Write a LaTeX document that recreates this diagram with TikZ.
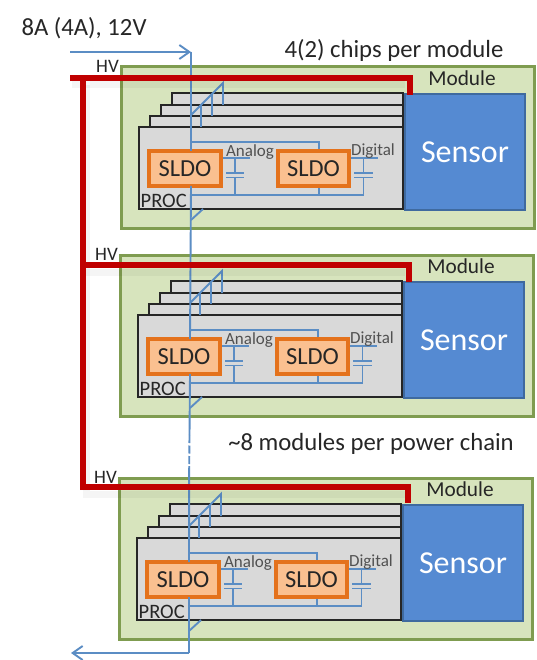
\documentclass[tikz,border=0pt]{standalone}
\usepackage{fontspec}
\setmainfont{Carlito}
\usetikzlibrary{arrows.meta}
\definecolor{gfill}{HTML}{D7E4BD}
\definecolor{gline}{HTML}{7F9C50}
\definecolor{chipfill}{HTML}{D9D9D9}
\definecolor{sfill}{HTML}{558AD2}
\definecolor{sline}{HTML}{3F6A9F}
\definecolor{ofill}{HTML}{FAC090}
\definecolor{oline}{HTML}{E4721C}
\definecolor{wirec}{HTML}{5B8DC4}
\definecolor{redc}{HTML}{C00000}
\definecolor{txt}{HTML}{262626}
\tikzset{
  rectbase/.style={rectangle,inner sep=0pt,outer sep=0pt},
  greenbox/.style={rectbase,draw=gline,fill=gfill,line width=3pt,minimum width=413pt,minimum height=161pt},
  chipbox/.style={rectbase,draw=black!85,fill=chipfill,line width=1.3pt},
  sensorbox/.style={rectbase,draw=sline,fill=sfill,line width=2.4pt,minimum width=120pt,minimum height=116pt,text=white,font=\fontsize{32}{34}\selectfont},
  sldobox/.style={rectbase,draw=oline,fill=ofill,line width=3.2pt,minimum width=71pt,minimum height=35pt,text=txt,font=\fontsize{24.5}{26}\selectfont},
  wire/.style={draw=wirec,line width=1.9pt},
  capplate/.style={draw=wirec,line width=1.6pt},
  redbar/.style={draw=redc,line width=6pt,line cap=butt,line join=miter},
  redshadow/.style={draw=black,opacity=0.04,line width=7pt},
  smalltxt/.style={inner sep=0pt,text=txt!80,font=\fontsize{17}{19}\selectfont},
  proctxt/.style={inner sep=0pt,text=txt,font=\fontsize{20.5}{22}\selectfont},
  hvtxt/.style={inner sep=0pt,text=txt,font=\fontsize{19}{21}\selectfont},
  modtxt/.style={inner sep=0pt,text=txt,font=\fontsize{21.3}{24}\selectfont},
  titletxt/.style={inner sep=0pt,text=txt,font=\fontsize{24.7}{27}\selectfont},
  arrowed/.style={-{Straight Barb[length=10pt,width=14pt,line width=1.9pt]}},
}
\newcommand{\modulebox}[3]{%
\begin{scope}[shift={(#2,#3)}]
  \node[greenbox] (#1green) at (327.5,147.5) {};
  \node[chipbox,minimum width=231pt,minimum height=34pt] (#1backa) at (287.5,110) {};
  \node[chipbox,minimum width=242pt,minimum height=22pt] (#1backb) at (282,116) {};
  \node[chipbox,minimum width=253pt,minimum height=11pt] (#1backc) at (276.5,121.5) {};
  \node[chipbox,minimum width=264pt,minimum height=82pt] (#1chip) at (271,168) {};
  \node[sensorbox] (#1sensor) at (465,152) {Sensor};
  \node[modtxt] (#1mod) at (462,78.5) {Module};
  \node[hvtxt] (#1hv) at (107.5,66.5) {HV};
  \node[proctxt,anchor=west] (#1proc) at (140.5,200.5) {PROC};
  % inner wiring
  \coordinate (#1sp) at (191,142);
  \coordinate (#1spb) at (191,195);
  \coordinate (#1dga) at (191,115);
  \coordinate (#1dgb) at (223,83);
  \coordinate (#1dgx) at (201,105);
  \coordinate (#1dgy) at (212,94);
  \coordinate (#1tka) at (191,220);
  \coordinate (#1tkb) at (203,209);
  \coordinate (#1br) at (319,142);
  \coordinate (#1bre) at (363.5,195);
  \coordinate (#1ca) at (235,158);
  \coordinate (#1cb) at (235,173);
  \coordinate (#1cc) at (235,177.5);
  \coordinate (#1cd) at (235,195);
  \coordinate (#1da) at (363.5,158);
  \coordinate (#1db) at (363.5,173);
  \coordinate (#1dc) at (363.5,177.5);
  \draw[wire] (#1dga) -- (#1dgb) -- (223,105);
  \draw[wire] (#1dgx) -- (201,127);
  \draw[wire] (#1dgy) -- (212,116);
  \draw[wire] (#1tka) -- (#1tkb);
  \draw[wire] (#1sp) -- (#1br) -- (319,151);
  \draw[wire] (#1spb) -- (#1bre) -- (#1dc);
  \draw[wire] (#1ca) -- (#1cb);
  \draw[wire] (#1cc) -- (#1cd);
  \draw[wire] (#1db) -- (#1da);
  \draw[wire] (221,158) -- (250,158);
  \draw[wire] (349,158) -- (378,158);
  \draw[capplate] (226,173) -- (244,173);
  \draw[capplate] (226,177.5) -- (244,177.5);
  \draw[capplate] (354,173) -- (373,173);
  \draw[capplate] (354,177.5) -- (373,177.5);
  \draw[wire] (319,186) -- (319,195);
  \node[sldobox,minimum width=72pt] (#1sa) at (185,168.5) {SLDO};
  \node[sldobox] (#1sb) at (313.5,168.5) {SLDO};
  \node[smalltxt] (#1an) at (250,152) {Analog};
  \node[smalltxt] (#1dg) at (373,151) {Digital};
\end{scope}}
\begin{document}
\begin{tikzpicture}[x=1pt,y=-1pt]
\useasboundingbox (0,0) rectangle (536,660);
\fill[white] (0,0) rectangle (536,660);
\modulebox{m}{0}{0}
\modulebox{n}{-1}{188}
\modulebox{p}{-2}{411}
\node[titletxt] (power) at (84,28.5) {8A (4A), 12V};
\node[titletxt] (perm) at (394,50) {4(2) chips per module};
\node[titletxt] (perc) at (371,444) {\char"7E 8 modules per power chain};
% power chain
\coordinate (inp) at (70,52);
\coordinate (topc) at (191,52);
\coordinate (ntc) at (190,300);
\coordinate (ptc) at (189,500);
\coordinate (dashs) at (189.5,435);
\coordinate (dashe) at (189.2,466);
\coordinate (botc) at (189,653);
\coordinate (outp) at (71,653);
\draw[wire,arrowed] (inp) -- (topc);
\draw[wire] (topc) -- (topc |- msa.north);
\draw[wire] (topc |- msa.south) -- (ntc |- nsa.north);
\draw[wire] (ntc |- nsa.south) -- (dashs);
\draw[wire,dash pattern=on 8pt off 2.5pt] (dashs) -- (dashe);
\draw[wire] (dashe) -- (ptc |- psa.north);
\draw[wire] (ptc |- psa.south) -- (botc);
\draw[wire,arrowed] (botc) -- (outp);
% red bus
\draw[redshadow] (86,85) -- (86,494) -- (405,494);
\draw[redshadow] (72,85) -- (405,85);
\draw[redshadow] (86,272) -- (405,272);
\coordinate (ra) at (70,78);
\coordinate (rb) at (410,78);
\coordinate (rc) at (410,95);
\draw[redbar] (ra) -- (rb) -- (rc);
\coordinate (rv) at (83,78);
\coordinate (rw) at (83,487);
\coordinate (rx) at (408,487);
\coordinate (ry) at (408,503);
\draw[redbar] (rv) -- (rw) -- (rx) -- (ry);
\coordinate (rm) at (83,265);
\coordinate (rn) at (409,265);
\coordinate (ro) at (409,282);
\draw[redbar] (rm) -- (rn) -- (ro);
\end{tikzpicture}
\end{document}
